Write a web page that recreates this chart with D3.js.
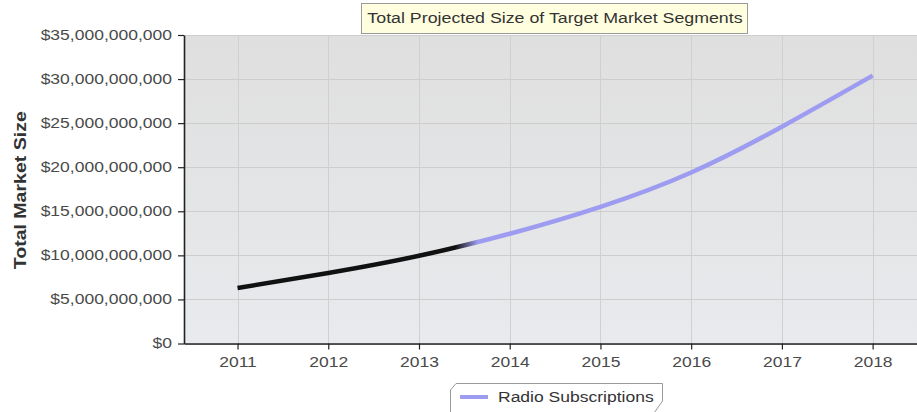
<!DOCTYPE html>
<html>
<head>
<meta charset="utf-8">
<script src="https://cdn.jsdelivr.net/npm/d3@7"></script>
<style>
  html, body { margin: 0; padding: 0; background: #ffffff; }
  svg { display: block; }
  text { font-family: "Liberation Sans", Arial, sans-serif; }
</style>
</head>
<body>
<svg id="chart" width="917" height="412"></svg>
<script>
// Projected market size by year (US dollars)
const years = [2011, 2012, 2013, 2014, 2015, 2016, 2017, 2018];
const radioSubscriptions = [6.3e9, 8.0e9, 9.95e9, 12.45e9, 15.5e9, 19.4e9, 24.6e9, 30.4e9];
const yTicks = [0, 5e9, 10e9, 15e9, 20e9, 25e9, 30e9, 35e9];
const seriesName = "Radio Subscriptions";
const chartTitle = "Total Projected Size of Target Market Segments";
const yTitle = "Total Market Size";
// Years up to here are actuals (drawn black); the rest are projections
const actualsEnd = 2013.4;
const projectionStart = 2013.65;

const svg = d3.select("#chart");
const plot = { left: 184, right: 918, top: 35, bottom: 343.5 };
const textStretch = 1.25;

const x = d3.scaleLinear().domain([2010.41, 2018.5]).range([plot.left, plot.right]);
const y = d3.scaleLinear().domain([0, 35e9]).range([plot.bottom, plot.top]);

function stretch(sel, k) {
  sel.each(function () {
    const len = this.getComputedTextLength();
    this.setAttribute("textLength", len * k);
    this.setAttribute("lengthAdjust", "spacingAndGlyphs");
  });
}

const defs = svg.append("defs");
const bg = defs.append("linearGradient").attr("id", "plotBg")
  .attr("x1", 0).attr("y1", 0).attr("x2", 0).attr("y2", 1);
bg.append("stop").attr("offset", "0%").attr("stop-color", "#dfdfdf");
bg.append("stop").attr("offset", "100%").attr("stop-color", "#e8eaed");

const lineGrad = defs.append("linearGradient").attr("id", "lineGrad")
  .attr("gradientUnits", "userSpaceOnUse")
  .attr("x1", x(actualsEnd)).attr("y1", 0)
  .attr("x2", x(projectionStart)).attr("y2", 0);
lineGrad.append("stop").attr("offset", "0%").attr("stop-color", "#111111");
lineGrad.append("stop").attr("offset", "100%").attr("stop-color", "#9d9cf0");

// plot background
svg.append("rect")
  .attr("x", plot.left).attr("y", plot.top)
  .attr("width", plot.right - plot.left).attr("height", plot.bottom - plot.top)
  .attr("fill", "url(#plotBg)");

// gridlines
svg.append("g").selectAll("line").data(yTicks).join("line")
  .attr("x1", plot.left).attr("x2", plot.right)
  .attr("y1", d => Math.round(y(d)) + 0.5).attr("y2", d => Math.round(y(d)) + 0.5)
  .attr("stroke", "#cdcdcd").attr("stroke-width", 1);
svg.append("g").selectAll("line").data(years).join("line")
  .attr("x1", d => Math.round(x(d)) + 0.5).attr("x2", d => Math.round(x(d)) + 0.5)
  .attr("y1", plot.top).attr("y2", plot.bottom)
  .attr("stroke", "#d0d0d0").attr("stroke-width", 1);

// series line
const line = d3.line()
  .x((d, i) => x(years[i]))
  .y(d => y(d))
  .curve(d3.curveNatural);
svg.append("path")
  .datum(radioSubscriptions)
  .attr("d", line)
  .attr("fill", "none")
  .attr("stroke", "url(#lineGrad)")
  .attr("stroke-width", 4.5)
  .attr("stroke-linejoin", "round");

// axes
const fmt = d => "$" + d3.format(",")(d);
const yAxis = svg.append("g")
  .attr("transform", `translate(${plot.left},0)`)
  .call(d3.axisLeft(y).tickValues(yTicks).tickFormat(fmt).tickSize(6).tickPadding(6).tickSizeOuter(0));
const xAxis = svg.append("g")
  .attr("transform", `translate(0,${plot.bottom})`)
  .call(d3.axisBottom(x).tickValues(years).tickFormat(d3.format("d")).tickSize(6).tickPadding(8).tickSizeOuter(0));

[yAxis, xAxis].forEach(a => {
  a.select(".domain").attr("stroke", "#222").attr("stroke-width", 1.6);
  a.selectAll(".tick line").attr("stroke", "#222").attr("stroke-width", 1.2);
  a.selectAll(".tick text").attr("fill", "#4a4a4a").attr("font-size", 14)
    .attr("font-family", "Liberation Sans, Arial, sans-serif");
});
stretch(yAxis.selectAll(".tick text"), textStretch);
stretch(xAxis.selectAll(".tick text"), textStretch);

// y axis title
const yt = svg.append("text")
  .attr("transform", `translate(26,${(plot.top + plot.bottom) / 2 + 1}) rotate(-90)`)
  .attr("text-anchor", "middle")
  .attr("font-size", 16).attr("font-weight", "bold").attr("fill", "#333")
  .text(yTitle);
stretch(yt, 1.22);

// title box
const titleG = svg.append("g");
titleG.append("rect")
  .attr("x", 361.5).attr("y", 3.5).attr("width", 386).attr("height", 30)
  .attr("fill", "#ffffdf").attr("stroke", "#9a9a9a").attr("stroke-width", 1);
const tt = titleG.append("text")
  .attr("x", 555).attr("y", 23)
  .attr("text-anchor", "middle")
  .attr("font-size", 14).attr("fill", "#333")
  .text(chartTitle);
stretch(tt, 1.27);

// legend
const legend = svg.append("g");
legend.append("path")
  .attr("d", "M450.5,413 L450.5,390 L456,383.5 L662.5,383.5 L662.5,401 L654,413")
  .attr("fill", "#ffffff").attr("stroke", "#9a9a9a").attr("stroke-width", 1);
legend.append("line")
  .attr("x1", 460).attr("x2", 488).attr("y1", 397).attr("y2", 397)
  .attr("stroke", "#9d9cf0").attr("stroke-width", 4);
const lt = legend.append("text")
  .attr("x", 498).attr("y", 402)
  .attr("font-size", 14).attr("fill", "#333")
  .text(seriesName);
stretch(lt, textStretch);
</script>
</body>
</html>
